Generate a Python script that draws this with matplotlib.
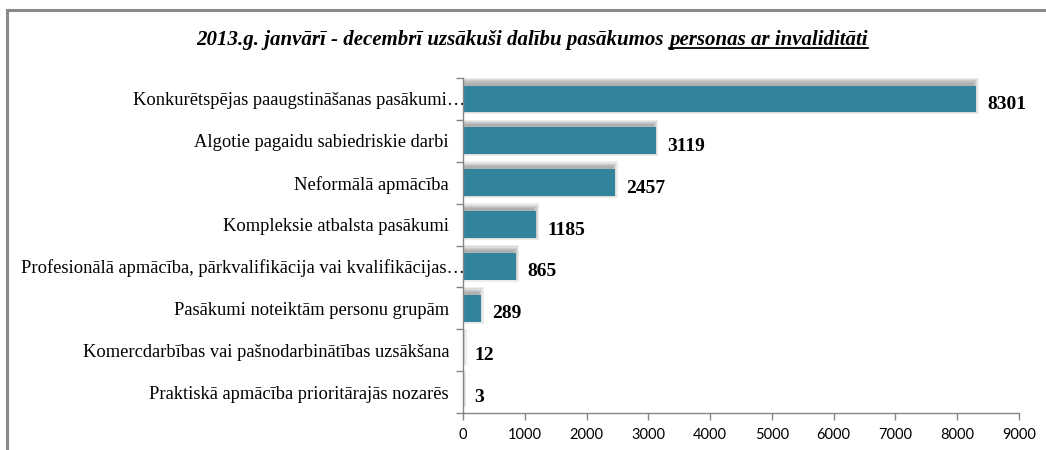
import matplotlib
matplotlib.use("Agg")
import matplotlib.pyplot as plt
import matplotlib.transforms as mtransforms
from matplotlib.lines import Line2D

categories = [
    "Konkurētspējas paaugstināšanas pasākumi…",
    "Algotie pagaidu sabiedriskie darbi",
    "Neformālā apmācība",
    "Kompleksie atbalsta pasākumi",
    "Profesionālā apmācība, pārkvalifikācija vai kvalifikācijas…",
    "Pasākumi noteiktām personu grupām",
    "Komercdarbības vai pašnodarbinātības uzsākšana",
    "Praktiskā apmācība prioritārajās nozarēs",
]
values = [8301, 3119, 2457, 1185, 865, 289, 12, 3]
xticks = [0, 1000, 2000, 3000, 4000, 5000, 6000, 7000, 8000, 9000]
title_plain = "2013.g. janvārī - decembrī uzsākuši dalību pasākumos "
title_under = "personas ar invaliditāti"

BAR = "#31849B"
AX = "#868686"
SERIF = ["Liberation Serif", "DejaVu Serif"]
SANS = ["Lato", "DejaVu Sans"]

fig = plt.figure(figsize=(10.46, 4.5), dpi=100)
ax = fig.add_axes([463 / 1046, 1 - 413 / 450, (1019 - 463) / 1046, (413 - 78) / 450])

n = len(categories)
ypos = list(range(n))
h = 0.64

# pixel sizes in data units
px_x = 9000 / 556
px_y = n / 335

# soft blurred shadow, shifted up/left
for k in range(5):
    e = k * 1.2
    ax.barh([y - 3 * px_y for y in ypos], [v + 2 * e * px_x for v in values],
            height=h + 2 * e * px_y, left=-e * px_x - 2 * px_x,
            color="#303030", alpha=0.09, zorder=1, linewidth=0)
ax.barh(ypos, values, height=h, color=BAR, zorder=3)

ax.set_ylim(n - 0.5, -0.5)
ax.set_xlim(0, 9000)
ax.set_xticks(xticks)
ax.set_xticklabels([str(t) for t in xticks], fontfamily=SANS, fontsize=10.5, color="#000000")
ax.set_yticks(ypos)
ax.set_yticklabels(categories, fontfamily=SERIF, fontsize=13.3)
ax.tick_params(axis="y", length=0, pad=10)
ax.set_yticks([i - 0.5 for i in range(n + 1)], minor=True)
ax.tick_params(axis="y", which="minor", length=5, color=AX, width=1)
ax.tick_params(axis="x", length=5, color=AX, width=1, pad=6)

for lab in ax.get_yticklabels():
    if lab.get_text().endswith("…"):
        lab.set_transform(lab.get_transform() + mtransforms.ScaledTranslation(16 / 100, 0, fig.dpi_scale_trans))

for s in ["top", "right"]:
    ax.spines[s].set_visible(False)
for s in ["left", "bottom"]:
    ax.spines[s].set_color(AX)
    ax.spines[s].set_linewidth(1)
    ax.spines[s].set_zorder(4)

for y, v in zip(ypos, values):
    ax.annotate(str(v), xy=(v, y), xytext=(8, -4), textcoords="offset points",
                ha="left", va="center", fontfamily=SERIF, fontweight="bold", fontsize=14,
                zorder=5)

# border of chart area
fig.add_artist(Line2D([7 / 1046, 7 / 1046], [0, 1 - 10 / 450], transform=fig.transFigure,
                      color="#8a8a8a", lw=2.2))
fig.add_artist(Line2D([7 / 1046, 1], [1 - 10 / 450, 1 - 10 / 450], transform=fig.transFigure,
                      color="#8a8a8a", lw=2.2))

# title with underlined part
fs_t = 15
ty = 1 - 40 / 450
t1 = fig.text(0, ty, title_plain, fontfamily=SERIF, fontsize=fs_t, fontweight="bold",
              fontstyle="italic", ha="left", va="center")
t2 = fig.text(0, ty, title_under, fontfamily=SERIF, fontsize=fs_t, fontweight="bold",
              fontstyle="italic", ha="left", va="center")
fig.canvas.draw()
r = fig.canvas.get_renderer()
w1 = t1.get_window_extent(r).width
w2 = t2.get_window_extent(r).width
W = fig.bbox.width
cx = 532
x0 = cx - (w1 + w2) / 2
t1.set_x(x0 / W)
t2.set_x((x0 + w1) / W)
fig.canvas.draw()
bb = t2.get_window_extent(r)
uy = bb.y0 + 2
fig.add_artist(Line2D([bb.x0 / W, bb.x1 / W], [uy / fig.bbox.height] * 2,
                      transform=fig.transFigure, color="black", lw=1.3))

fig.savefig("out.png", dpi=100)
